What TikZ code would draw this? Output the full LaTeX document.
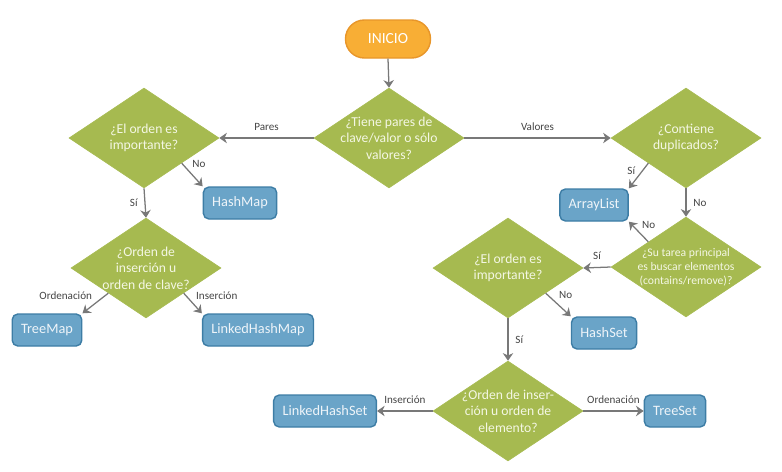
\documentclass[tikz,border=0pt]{standalone}
\usepackage{fontspec}
\setmainfont{Carlito}
\usepackage{tikz}
\usetikzlibrary{shapes.geometric, arrows.meta, positioning}

\definecolor{startorange}{HTML}{F8AE35}
\definecolor{startborder}{HTML}{E8962A}
\definecolor{decgreen}{HTML}{A6BA50}
\definecolor{dectext}{HTML}{F4F7E4}
\definecolor{classblue}{HTML}{6AA4C8}
\definecolor{classborder}{HTML}{3D7DA5}
\definecolor{classtext}{HTML}{EEF4F9}
\definecolor{arrowgray}{HTML}{787878}
\definecolor{labelgray}{HTML}{444444}

\tikzset{
  startbox/.style={
    draw=startborder, fill=startorange, line width=1pt,
    rounded corners=0.47cm, minimum width=2.125cm, minimum height=0.95cm,
    text=white, font=\fontsize{11}{13}\selectfont
  },
  decision/.style={
    diamond, draw=decgreen, fill=decgreen, aspect=1.5,
    minimum width=3.75cm, minimum height=2.5cm, inner sep=-0.2cm,
    align=center, text=dectext, font=\fontsize{9.7}{11.8}\selectfont
  },
  classbox/.style={
    draw=classborder, fill=classblue, line width=1pt, rounded corners=4pt,
    minimum height=0.8cm, inner xsep=6.3pt,
    text=classtext, font=\fontsize{10.2}{12}\selectfont
  },
  flowarrow/.style={
    -{Stealth[length=1.9mm, width=2.6mm, inset=0.6mm]},
    line width=0.9pt, draw=arrowgray
  },
  flowlabel/.style={
    font=\fontsize{7.9}{9.5}\selectfont, text=labelgray, inner sep=2pt
  },
}

\begin{document}
\begin{tikzpicture}
  \useasboundingbox (0, 0) rectangle (19.55, -11.775);

  % === Start ===
  \node[startbox] (inicio) at (9.7, -0.975) {INICIO};

  % === First question ===
  \node[decision] (pares) at (9.725, -3.45)
    {¿Tiene pares de\\clave/valor o sólo\\valores?};

  % === Map branch ===
  \node[decision] (ordenmap) at (3.6, -3.45) {¿El orden es\\importante?};
  \node[classbox] (hashmap) at (6.0, -5.075) {HashMap};
  \node[decision] (tipomap) at (3.65, -6.7) {¿Orden de\\inserción u\\orden de clave?};
  \node[classbox] (treemap) at (1.175, -8.25) {TreeMap};
  \node[classbox] (linkedmap) at (6.45, -8.25) {LinkedHashMap};

  % === Collection branch ===
  \node[decision] (duplicados) at (17.15, -3.45) {¿Contiene\\duplicados?};
  \node[classbox] (arraylist) at (14.85, -5.125) {ArrayList};
  \node[decision, font=\fontsize{8.3}{10}\selectfont] (buscar) at (17.15, -6.675)
    {¿Su tarea principal\\es buscar elementos\\(contains/remove)?};
  \node[decision] (ordenset) at (12.7, -6.7) {¿El orden es\\importante?};
  \node[classbox] (hashset) at (15.1, -8.325) {HashSet};
  \node[decision] (tiposet) at (12.7, -10.275)
    {¿Orden de inser-\\ción u orden de\\elemento?};
  \node[classbox] (linkedset) at (8.125, -10.275) {LinkedHashSet};
  \node[classbox] (treeset) at (16.875, -10.275) {TreeSet};

  % === Arrows ===
  \draw[flowarrow] (inicio.south) -- (pares.north);
  \draw[flowarrow] (pares.west) -- node[flowlabel, above=1mm] {Pares} (ordenmap.east);
  \draw[flowarrow] (pares.east) -- node[flowlabel, above=1mm] {Valores} (duplicados.west);

  \draw[flowarrow] (ordenmap.south east) -- node[flowlabel, pos=0.35, above right] {No} (hashmap.north west);
  \draw[flowarrow] (ordenmap.south) -- node[flowlabel, left=1mm] {Sí} (tipomap.north);
  \draw[flowarrow] (tipomap.south west) -- node[flowlabel, above left] {Ordenación} (treemap.north east);
  \draw[flowarrow] (tipomap.south east) -- node[flowlabel, above right] {Inserción} (linkedmap.north west);

  \draw[flowarrow] (duplicados.south west) -- node[flowlabel, pos=0.3, left=1mm] {Sí} (arraylist.north east);
  \draw[flowarrow] (duplicados.south) -- node[flowlabel, right=1mm] {No} (buscar.north);
  \draw[flowarrow] (buscar.north west) -- node[flowlabel, above right] {No} (arraylist.south east);
  \draw[flowarrow] (buscar.west) -- node[flowlabel, above=1mm] {Sí} (ordenset.east);

  \draw[flowarrow] (ordenset.south east) -- node[flowlabel, pos=0.4, above right] {No} (hashset.north west);
  \draw[flowarrow] (ordenset.south) -- node[flowlabel, right=1mm] {Sí} (tiposet.north);
  \draw[flowarrow] (tiposet.west) -- node[flowlabel, above=1mm] {Inserción} (linkedset.east);
  \draw[flowarrow] (tiposet.east) -- node[flowlabel, above=1mm] {Ordenación} (treeset.west);

\end{tikzpicture}
\end{document}
